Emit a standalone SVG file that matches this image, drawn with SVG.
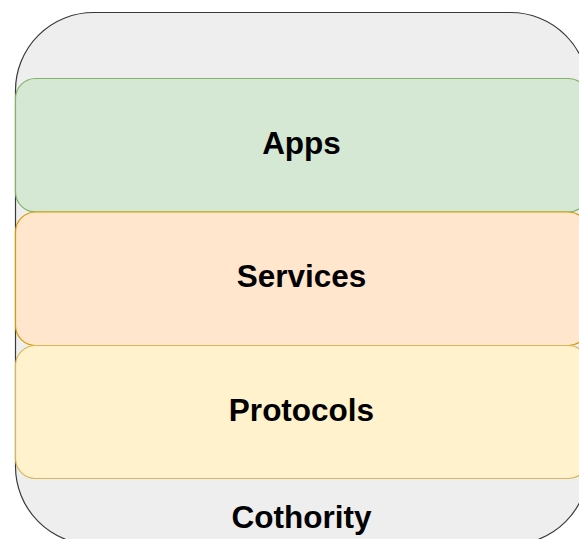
<svg xmlns="http://www.w3.org/2000/svg" width="579" height="539" viewBox="0 0 579 539">
<style>
.lbl{font-family:"Liberation Sans",Arial,Helvetica,sans-serif;font-weight:bold;font-size:31.5px;fill:#000;text-anchor:middle}
</style>
<g id="cothority">
<rect x="15.5" y="12.5" width="573" height="532" rx="78" ry="78" fill="#eeeeee" stroke="#36393d" stroke-width="1.2"/>
<text class="lbl" x="301.5" y="527.5">Cothority</text>
</g>
<g id="apps">
<rect x="15.5" y="78.5" width="573" height="133.5" rx="20" ry="20" fill="#d5e8d4" stroke="#82b366" stroke-width="1.2"/>
<text class="lbl" x="301.5" y="153.5">Apps</text>
</g>
<g id="services">
<rect x="15.5" y="212" width="573" height="133.5" rx="20" ry="20" fill="#ffe6cc" stroke="#d79b00" stroke-width="1.2"/>
<text class="lbl" x="301.5" y="286.5">Services</text>
</g>
<g id="protocols">
<rect x="15.5" y="345.5" width="573" height="133" rx="20" ry="20" fill="#fff2cc" stroke="#d6b656" stroke-width="1.2"/>
<text class="lbl" x="301.5" y="421">Protocols</text>
</g>
<g id="connectors"></g>
</svg>
